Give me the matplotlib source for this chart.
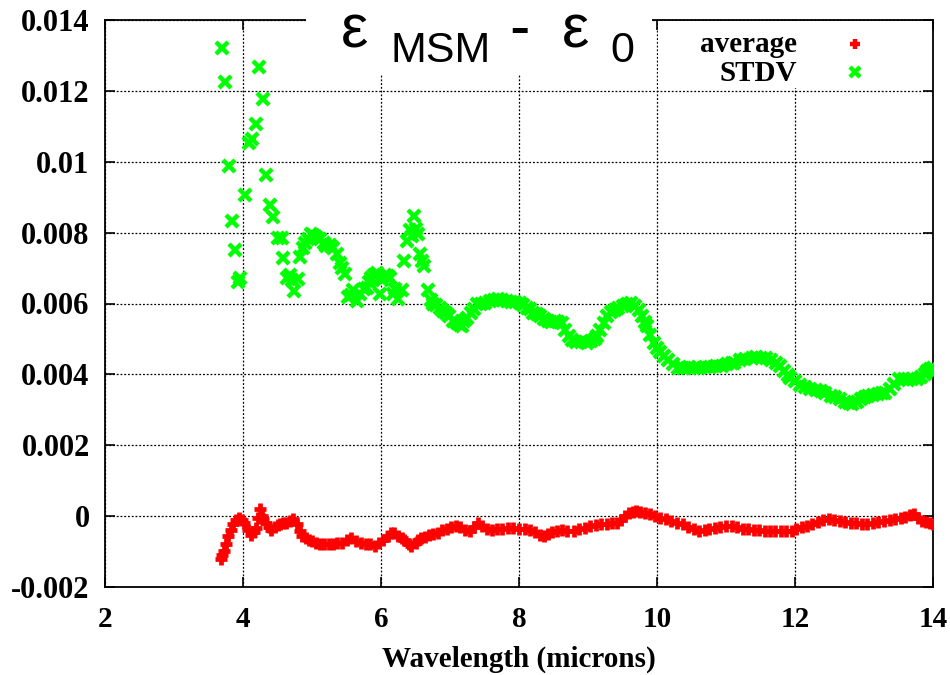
import matplotlib
matplotlib.use("Agg")
import matplotlib.pyplot as plt
from matplotlib.patches import Rectangle

# STDV series (green x)
stdv_x = [3.69, 3.74, 3.80, 3.84, 3.88, 3.93, 3.96, 4.03, 4.09, 4.13, 4.19, 4.23, 4.29, 4.33,
          4.39, 4.43, 4.51, 4.56, 4.58, 4.64, 4.68, 4.71, 4.74, 4.79, 4.83, 4.87, 4.90, 4.94,
          4.98, 5.01, 5.06, 5.12, 5.17, 5.21, 5.26, 5.30, 5.36, 5.40, 5.44, 5.48, 5.52, 5.56,
          5.59, 5.65, 5.70, 5.75, 5.79, 5.83, 5.86, 5.90, 5.94, 5.99, 6.02, 6.06, 6.10, 6.13,
          6.17, 6.21, 6.25, 6.30, 6.33, 6.37, 6.42, 6.45, 6.48, 6.51, 6.54, 6.57, 6.60, 6.62,
          6.68, 6.72, 6.75, 6.80, 6.85, 6.90, 6.94, 6.98, 7.04, 7.10, 7.14, 7.17, 7.21, 7.24,
          7.30, 7.35, 7.39, 7.45, 7.50, 7.58, 7.64, 7.70, 7.76, 7.82, 7.88, 7.94, 8.01, 8.06,
          8.11, 8.16, 8.21, 8.26, 8.30, 8.36, 8.42, 8.47, 8.52, 8.57, 8.62, 8.67, 8.72, 8.77,
          8.83, 8.90, 8.98, 9.05, 9.10, 9.13, 9.18, 9.23, 9.28, 9.34, 9.39, 9.44, 9.50, 9.56,
          9.62, 9.68, 9.74, 9.78, 9.82, 9.85, 9.90, 9.95, 10.00, 10.05, 10.10, 10.16, 10.23,
          10.30, 10.38, 10.46, 10.54, 10.61, 10.69, 10.77, 10.86, 10.94, 11.02, 11.08, 11.12,
          11.20, 11.28, 11.37, 11.44, 11.51, 11.58, 11.65, 11.72, 11.78, 11.84, 11.90, 11.93,
          12.00, 12.07, 12.14, 12.22, 12.30, 12.37, 12.44, 12.52, 12.58, 12.65, 12.72, 12.78,
          12.83, 12.90, 12.96, 13.02, 13.06, 13.13, 13.20, 13.26, 13.31, 13.37, 13.44, 13.51,
          13.58, 13.64, 13.70, 13.77, 13.83, 13.88, 13.92, 13.96, 14.00]
stdv_y = [0.01322, 0.01225, 0.00989, 0.00834, 0.00752, 0.00660, 0.00673, 0.00907, 0.01054,
          0.01065, 0.01107, 0.01268, 0.01178, 0.00963, 0.00879, 0.00845, 0.00786, 0.00786,
          0.00727, 0.00673, 0.00680, 0.00667, 0.00634, 0.00670, 0.00730, 0.00758, 0.00770,
          0.00783, 0.00795, 0.00792, 0.00788, 0.00783, 0.00770, 0.00763, 0.00765, 0.00758,
          0.00740, 0.00713, 0.00700, 0.00684, 0.00617, 0.00625, 0.00637, 0.00608, 0.00628,
          0.00640, 0.00645, 0.00660, 0.00673, 0.00680, 0.00687, 0.00628, 0.00665, 0.00680,
          0.00678, 0.00673, 0.00628, 0.00640, 0.00614, 0.00637, 0.00721, 0.00777, 0.00806,
          0.00790, 0.00848, 0.00810, 0.00797, 0.00740, 0.00720, 0.00707, 0.00637, 0.00610,
          0.00600, 0.00595, 0.00588, 0.00580, 0.00573, 0.00565, 0.00552, 0.00545, 0.00538,
          0.00536, 0.00550, 0.00560, 0.00573, 0.00585, 0.00598, 0.00600, 0.00601, 0.00608,
          0.00610, 0.00612, 0.00611, 0.00608, 0.00605, 0.00604, 0.00601, 0.00595, 0.00588,
          0.00585, 0.00573, 0.00570, 0.00565, 0.00555, 0.00550, 0.00548, 0.00550, 0.00548,
          0.00545, 0.00525, 0.00508, 0.00498, 0.00492, 0.00490, 0.00489, 0.00495, 0.00500,
          0.00508, 0.00525, 0.00545, 0.00564, 0.00575, 0.00582, 0.00587, 0.00592, 0.00598,
          0.00601, 0.00592, 0.00583, 0.00565, 0.00548, 0.00536, 0.00512, 0.00489, 0.00475,
          0.00462, 0.00452, 0.00440, 0.00428, 0.00419, 0.00418, 0.00420, 0.00419, 0.00419,
          0.00420, 0.00421, 0.00423, 0.00425, 0.00428, 0.00432, 0.00433, 0.00440, 0.00444,
          0.00447, 0.00448, 0.00447, 0.00447, 0.00440, 0.00432, 0.00423, 0.00410, 0.00398,
          0.00391, 0.00380, 0.00370, 0.00363, 0.00358, 0.00355, 0.00352, 0.00348, 0.00340,
          0.00335, 0.00330, 0.00322, 0.00318, 0.00316, 0.00322, 0.00330, 0.00336, 0.00339,
          0.00342, 0.00345, 0.00347, 0.00348, 0.00360, 0.00372, 0.00386, 0.00386, 0.00385,
          0.00387, 0.00386, 0.00392, 0.00400, 0.00409, 0.00414, 0.00419]

# average series (red +)
avg_x = [3.68, 3.70, 3.72, 3.75, 3.78, 3.82, 3.86, 3.90, 3.94, 3.98, 4.02, 4.07, 4.12, 4.16,
         4.19, 4.22, 4.24, 4.27, 4.29, 4.33, 4.37, 4.41, 4.46, 4.50, 4.53, 4.58, 4.63, 4.68,
         4.73, 4.78, 4.82, 4.86, 4.91, 4.95, 5.00, 5.06, 5.12, 5.18, 5.24, 5.30, 5.36, 5.44,
         5.50, 5.57, 5.64, 5.71, 5.78, 5.84, 5.91, 5.97, 6.03, 6.10, 6.15, 6.19, 6.25, 6.30,
         6.34, 6.40, 6.44, 6.50, 6.54, 6.58, 6.64, 6.70, 6.76, 6.82, 6.88, 6.95, 7.02, 7.09,
         7.15, 7.22, 7.29, 7.35, 7.41, 7.47, 7.54, 7.61, 7.68, 7.76, 7.84, 7.92, 8.00, 8.08,
         8.16, 8.23, 8.30, 8.36, 8.42, 8.48, 8.55, 8.62, 8.70, 8.79, 8.87, 8.95, 9.03, 9.11,
         9.19, 9.27, 9.35, 9.42, 9.48, 9.54, 9.60, 9.65, 9.70, 9.76, 9.83, 9.90, 9.97, 10.05,
         10.13, 10.21, 10.29, 10.37, 10.45, 10.53, 10.61, 10.69, 10.76, 10.84, 10.92, 11.00,
         11.08, 11.16, 11.24, 11.32, 11.40, 11.48, 11.56, 11.64, 11.71, 11.79, 11.87, 11.95,
         12.02, 12.10, 12.17, 12.25, 12.33, 12.41, 12.49, 12.57, 12.65, 12.73, 12.81, 12.89,
         12.97, 13.05, 13.13, 13.21, 13.29, 13.37, 13.45, 13.53, 13.60, 13.66, 13.72, 13.78,
         13.84, 13.90, 13.95, 14.00]
avg_y = [-0.00122, -0.00110, -0.00099, -0.00078, -0.00056, -0.00040, -0.00023, -0.00012,
         -0.00005, -0.00010, -0.00019, -0.00038, -0.00052, -0.00045, -0.00033, -0.00005,
         0.00019, 0.00000, -0.00009, -0.00020, -0.00030, -0.00038, -0.00030, -0.00025,
         -0.00023, -0.00020, -0.00018, -0.00015, -0.00009, -0.00023, -0.00042, -0.00056,
         -0.00062, -0.00066, -0.00070, -0.00075, -0.00078, -0.00080, -0.00080, -0.00078,
         -0.00076, -0.00075, -0.00068, -0.00061, -0.00070, -0.00075, -0.00078, -0.00080,
         -0.00085, -0.00075, -0.00066, -0.00055, -0.00048, -0.00047, -0.00055, -0.00062,
         -0.00066, -0.00078, -0.00085, -0.00075, -0.00068, -0.00061, -0.00058, -0.00052,
         -0.00050, -0.00047, -0.00040, -0.00035, -0.00030, -0.00028, -0.00032, -0.00038,
         -0.00042, -0.00030, -0.00019, -0.00028, -0.00035, -0.00038, -0.00036, -0.00035,
         -0.00034, -0.00033, -0.00035, -0.00036, -0.00038, -0.00045, -0.00052, -0.00056,
         -0.00050, -0.00046, -0.00042, -0.00040, -0.00042, -0.00042, -0.00036, -0.00033,
         -0.00028, -0.00025, -0.00023, -0.00022, -0.00020, -0.00019, -0.00010, 0.00000,
         0.00008, 0.00012, 0.00014, 0.00012, 0.00008, 0.00005, 0.00000, -0.00005, -0.00009,
         -0.00014, -0.00019, -0.00023, -0.00030, -0.00037, -0.00042, -0.00038, -0.00035,
         -0.00033, -0.00030, -0.00029, -0.00028, -0.00032, -0.00035, -0.00037, -0.00038,
         -0.00040, -0.00041, -0.00042, -0.00042, -0.00042, -0.00042, -0.00042, -0.00036,
         -0.00032, -0.00028, -0.00022, -0.00016, -0.00012, -0.00009, -0.00012, -0.00015,
         -0.00017, -0.00019, -0.00020, -0.00022, -0.00023, -0.00020, -0.00017, -0.00014,
         -0.00011, -0.00008, -0.00005, -0.00002, 0.00002, 0.00005, -0.00005, -0.00014,
         -0.00017, -0.00019, -0.00021]

x_ticks = [2, 4, 6, 8, 10, 12, 14]
y_ticks = [-0.002, 0, 0.002, 0.004, 0.006, 0.008, 0.01, 0.012, 0.014]
y_tick_labels = ['-0.002', '0', '0.002', '0.004', '0.006', '0.008', '0.01', '0.012', '0.014']

serif = 'Liberation Serif'
sans = 'Liberation Sans'

fig = plt.figure(figsize=(9.5, 6.75), dpi=100)
W, H = 950.0, 675.0
ax = fig.add_axes([105 / W, 1 - 587 / H, 828 / W, 567 / H])
ax.set_axisbelow(True)

ax.plot(stdv_x, stdv_y, linestyle='none', marker='x', color='#00ff00',
        markersize=8, markeredgewidth=3.2, zorder=3)
ax.plot(avg_x, avg_y, linestyle='none', marker='+', color='#ff0000',
        markersize=8, markeredgewidth=3.4, zorder=4)

ax.set_xlim(2, 14)
ax.set_ylim(-0.002, 0.014)
ax.set_xticks(x_ticks)
ax.set_xticklabels([str(t) for t in x_ticks], fontfamily=serif, fontweight='bold', fontsize=21)
ax.set_yticks(y_ticks)
ax.set_yticklabels(y_tick_labels, fontfamily=serif, fontweight='bold', fontsize=22)
ax.tick_params(direction='in', length=7, width=1.2, top=True, right=True)
ax.tick_params(axis='x', pad=14)
ax.tick_params(axis='y', pad=11)
ax.grid(True, color='black', linestyle=(0, (1.5, 1.5)), linewidth=0.9)
for s in ax.spines.values():
    s.set_linewidth(1.3)

ax.set_xlabel('Wavelength (microns)', fontfamily=serif, fontweight='bold', fontsize=21, labelpad=9)

# key area cleared of grid, like gnuplot
ax.add_patch(Rectangle((658 / W, 1 - 88 / H), (932 - 658) / W, (88 - 21) / H,
                       transform=fig.transFigure, facecolor='white', edgecolor='none',
                       zorder=1, clip_on=False))
fig.text(797 / W, 1 - 52 / H, 'average', fontfamily=serif, fontweight='bold', fontsize=21,
         ha='right', va='baseline')
fig.text(797 / W, 1 - 81 / H, 'STDV', fontfamily=serif, fontweight='bold', fontsize=21,
         ha='right', va='baseline')
ax.plot([855 / W], [1 - 44 / H], transform=fig.transFigure, marker='+', color='#ff0000',
        markersize=7, markeredgewidth=3.2, clip_on=False, zorder=6)
ax.plot([855 / W], [1 - 72 / H], transform=fig.transFigure, marker='x', color='#00ff00',
        markersize=7, markeredgewidth=3.2, clip_on=False, zorder=6)

# title box over the top frame
ax.add_patch(Rectangle((306 / W, 1 - 75 / H), (652 - 306) / W, 75 / H,
                       transform=fig.transFigure, facecolor='white', edgecolor='none',
                       zorder=5, clip_on=False))
fig.text(341 / W, 1 - 47 / H, '\u03b5', fontfamily=sans, fontsize=44, ha='left', va='baseline')
fig.text(390 / W, 1 - 62 / H, 'MSM', fontfamily=sans, fontsize=31, ha='left', va='baseline')
fig.text(509 / W, 1 - 47 / H, '-', fontfamily=sans, fontsize=44, ha='left', va='baseline')
fig.text(562 / W, 1 - 47 / H, '\u03b5', fontfamily=sans, fontsize=44, ha='left', va='baseline')
fig.text(610 / W, 1 - 62 / H, '0', fontfamily=sans, fontsize=31, ha='left', va='baseline')

fig.savefig('out.png', dpi=100)
